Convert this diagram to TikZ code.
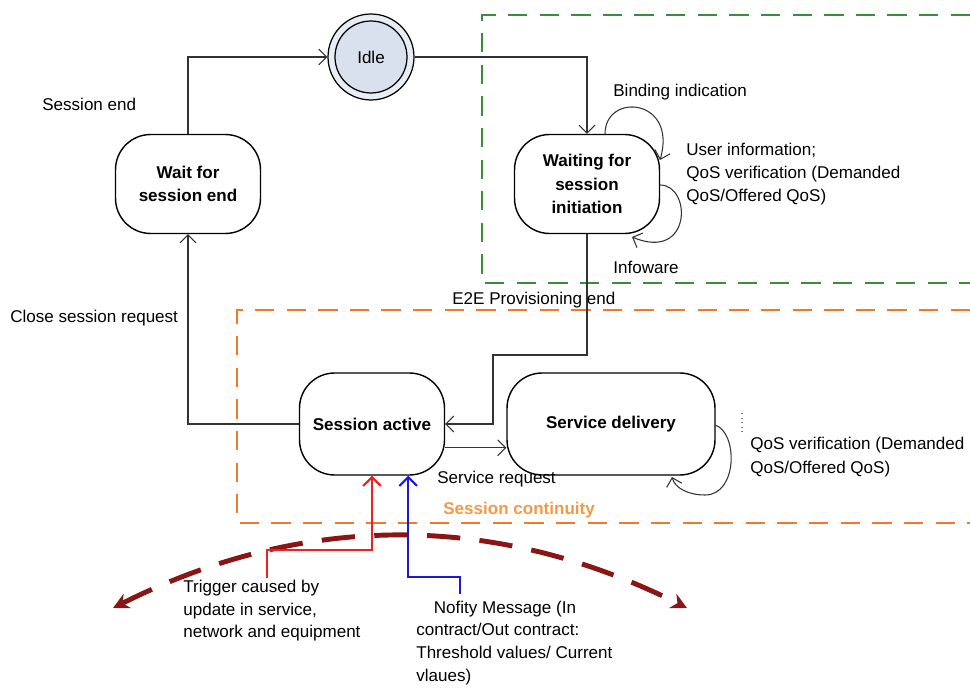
\documentclass[tikz,border=0pt]{standalone}
\usepackage{fontspec}
\setmainfont{Liberation Sans}
\usetikzlibrary{arrows.meta,calc}
\definecolor{idlefill}{HTML}{D9E0EE}
\definecolor{idlering}{HTML}{E8ECF4}
\definecolor{grn}{HTML}{3C8C3C}
\definecolor{org}{HTML}{F07A2A}
\definecolor{orglt}{HTML}{F29A48}
\definecolor{dred}{HTML}{8A1515}
\definecolor{lnred}{HTML}{F02020}
\definecolor{lnblue}{HTML}{1818E0}
\begin{document}
\begin{tikzpicture}[x=0.02cm,y=-0.02cm,
  every node/.style={font=\fontsize{9.7}{13.3}\selectfont},
  state/.style={draw, line width=0.8pt, rounded corners=20pt, minimum width=2.9cm, minimum height=1.98cm, align=center, inner sep=2pt, font=\fontsize{9.7}{13.3}\selectfont\bfseries},
  lbl/.style={anchor=west, inner sep=0pt, align=left},
  conn/.style={line width=0.6pt, draw=black!80, -{Straight Barb[length=4.5pt,width=9pt]}},
  zone/.style={line width=1.3pt, dash pattern=on 11pt off 7pt}
]
\useasboundingbox (0,0) rectangle (970,689);

% zones
\draw[zone, grn] (970,15) -- (482,15) -- (482,283) -- (970,283);
\draw[zone, org] (970,310) -- (237,310) -- (237,523) -- (970,523);

% states
\node[circle, draw, line width=0.7pt, fill=idlering, minimum size=1.72cm] (idleo) at (371,57) {};
\node[circle, draw, line width=0.7pt, fill=idlefill, minimum size=1.44cm] (idle) at (371,57) {Idle};
\node[state] (wait) at (188,184) {Wait for\\session end};
\node[state] (winit) at (587,184) {Waiting for\\session\\initiation};
\node[state, minimum height=2.04cm] (sa) at (372,424) {Session active};
\node[state, minimum width=4.16cm, minimum height=2.04cm] (sd) at (611,424) {Service delivery};

% connectors
\draw[conn] (wait.north) |- (idleo.west);
\draw[conn] (idleo.east) -| (winit.north);
\coordinate (bend) at (493,355);
\draw[conn] (winit.south) |- (bend) |- (sa.east);
\draw[conn] (sa.-18) -- (sa.-18 -| sd.west);
\draw[conn] (sa.west) -| (wait.south);

% self loops
\draw[conn] (605,134) .. controls (605,92) and (678,98) .. (660,160);
\draw[conn] (660,185) .. controls (692,185) and (692,262) .. (632,237);
\draw[conn] (715,425) .. controls (738,432) and (738,495) .. (705,495) .. controls (688,495) and (675,488) .. (672,477);
\draw[gray, dotted, line width=0.6pt] (742,413) -- (742,432);

% labels
\node[lbl] (lse) at (42,104) {Session end};
\node[lbl] (lcs) at (10,318) {Close session request};
\node[lbl] (lbi) at (613,92) {Binding indication};
\node[lbl] (lui) at (686,174) {User information;\\QoS verification (Demanded\\QoS/Offered QoS)};
\node[lbl] (lif) at (613,267) {Infoware};
\node[lbl] (le2e) at (452,300) {E2E Provisioning end};
\node[lbl] (lsr) at (437,479) {Service request};
\node[lbl, text=orglt, font=\fontsize{9.7}{13.3}\selectfont\bfseries] (lsc) at (443,510) {Session continuity};
\node[lbl] (lqos) at (750,457) {QoS verification (Demanded\\QoS/Offered QoS)};
\node[lbl, font=\fontsize{9.7}{12.8}\selectfont] (ltrig) at (183,611) {Trigger caused by\\update in service,\\network and equipment};
\node[lbl, font=\fontsize{9.7}{13.0}\selectfont] (lnot) at (416,643) {\hspace{10pt}Nofity Message (In\\contract/Out contract:\\Threshold values/ Current\\vlaues)};

% dark red arc
\coordinate (arcl) at (113,608);
\coordinate (arcr) at (687,608);
\draw[dred, line width=2.8pt, dash pattern=on 19pt off 11pt, {Stealth[length=9pt,width=9pt]}-{Stealth[length=9pt,width=9pt]}]
  (arcl) .. controls (304,512) and (496,512) .. (arcr);

% red and blue triggers
\coordinate (rst) at (267,578);
\coordinate (bst) at (460,594);
\draw[lnred, line width=1.2pt, -{Straight Barb[length=5pt,width=10pt]}] (rst) -- ++(0,-28) -| (sa.south);
\draw[lnblue, line width=1.2pt, -{Straight Barb[length=5pt,width=10pt]}] (bst) -- ++(0,-17) -| (sa.-55);
\end{tikzpicture}
\end{document}
